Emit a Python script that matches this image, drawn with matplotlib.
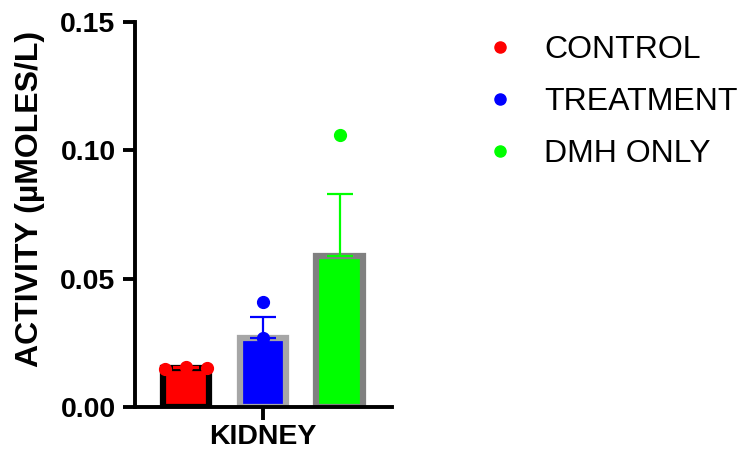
import matplotlib
matplotlib.use('Agg')
import matplotlib.pyplot as plt
import numpy as np
from matplotlib.lines import Line2D

plt.rcParams['font.family'] = ['Liberation Sans', 'DejaVu Sans']

# groups and the individual values
groups = ['CONTROL', 'TREATMENT', 'DMH ONLY']
control = [0.0150, 0.0157, 0.0153]
treatment = [0.041, 0.027, 0.013]
dmh_only = [0.106, 0.044, 0.027]
tissue = 'KIDNEY'

fill_colors = ['#ff0000', '#0000ff', '#00ff00']
edge_colors = ['#000000', '#a6a6a6', '#808080']
jitter = [[-0.27, 0.0, 0.27], [0.0, 0.0, 0.0], [0.0, 0.0, 0.0]]

fig = plt.figure(figsize=(7.38, 4.58), dpi=100)
ax = fig.add_axes([135/738, 51/458, 257/738, 385/458])

for i, vals in enumerate([control, treatment, dmh_only]):
    vals = np.array(vals)
    mean = vals.mean()
    sem = vals.std(ddof=1) / np.sqrt(len(vals))
    ax.bar(i, mean, width=0.6, color=fill_colors[i], edgecolor=edge_colors[i],
           linewidth=4.5, zorder=2)
    ax.errorbar(i, mean, yerr=[[0], [sem]], color=fill_colors[i], elinewidth=1.6,
                capsize=9.5, capthick=1.6, fmt='none', zorder=3)
    ax.plot(i + np.array(jitter[i]), vals, 'o', color=fill_colors[i],
            markersize=8.5, zorder=4, clip_on=False)

ax.set_xlim(-0.665, 2.684)
ax.set_ylim(0, 0.15)
ax.set_yticks([0.0, 0.05, 0.10, 0.15])
ax.set_yticklabels(['0.00', '0.05', '0.10', '0.15'])
ax.set_xticks([1])
ax.set_xticklabels([tissue])

ax.spines['right'].set_visible(False)
ax.spines['top'].set_visible(False)
ax.spines['left'].set_linewidth(2.8)
ax.spines['bottom'].set_linewidth(2.8)
ax.tick_params(width=2.8, length=9, labelsize=20.5)
ax.tick_params(axis='y', pad=5)
for lab in ax.get_xticklabels() + ax.get_yticklabels():
    lab.set_fontweight('bold')

ax.set_ylabel('ACTIVITY (µMOLES/L)', fontsize=23, fontweight='bold')
ax.yaxis.set_label_coords(-0.35, 0.54)

handles = [Line2D([], [], marker='o', linestyle='none', color=c, markersize=8)
           for c in fill_colors]
fig.legend(handles, groups, loc='upper left', bbox_to_anchor=(455/738, 1 - 6.5/458),
           frameon=False, fontsize=23, handletextpad=0.89, labelspacing=0.68,
           handlelength=1.0)

plt.savefig('out.png', dpi=100)
